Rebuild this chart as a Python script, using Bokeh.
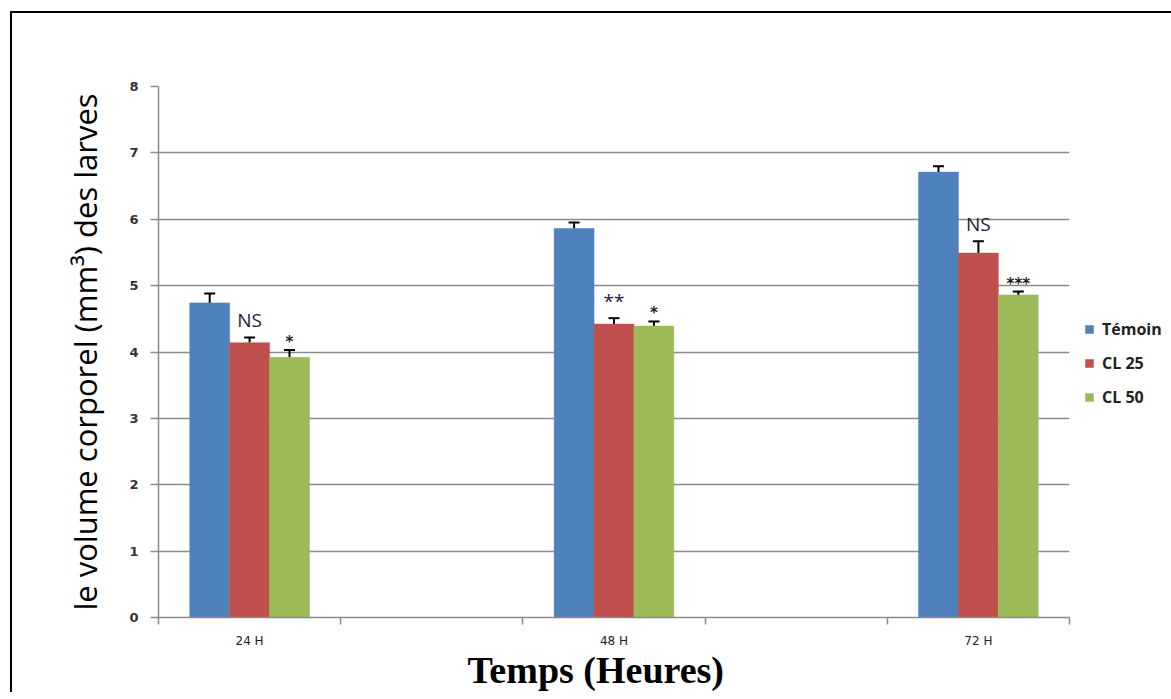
from bokeh.plotting import figure
from bokeh.models import (ColumnDataSource, Whisker, TeeHead, Legend, LegendItem,
                          FixedTicker, Range1d, Title)
from bokeh.transform import dodge
from bokeh.core.properties import value
from bokeh.embed import file_html
from bokeh.resources import INLINE

# ---- data ----
categories = ["24 H", "48 H", "72 H"]
series_names = ["Témoin", "CL 25", "CL 50"]
temoin = [4.74, 5.86, 6.71]
temoin_err = [0.14, 0.09, 0.09]
cl25 = [4.14, 4.42, 5.49]
cl25_err = [0.08, 0.09, 0.18]
cl50 = [3.92, 4.39, 4.86]
cl50_err = [0.11, 0.07, 0.05]
cl25_sig = ["NS", "**", "NS"]
cl50_sig = ["*", "*", "***"]
colors = ["#4F81BD", "#C0504D", "#9BBB59"]
y_ticks = [0, 1, 2, 3, 4, 5, 6, 7, 8]

# category slots: each category gets a slot, with an empty slot between them
slot = [2 * i + 0.5 for i in range(len(categories))]
n_slots = 2 * len(categories) - 1

src = ColumnDataSource(dict(
    x=slot, temoin=temoin, temoin_err=temoin_err,
    temoin_up=[v + e for v, e in zip(temoin, temoin_err)],
    cl25=cl25, cl25_err=cl25_err,
    cl25_up=[v + e for v, e in zip(cl25, cl25_err)],
    cl50=cl50, cl50_err=cl50_err,
    cl50_up=[v + e for v, e in zip(cl50, cl50_err)],
    cl25_sig=cl25_sig, cl50_sig=cl50_sig,
))

p = figure(frame_width=911, frame_height=531, output_backend="svg", toolbar_location=None,
           x_range=Range1d(0, n_slots), y_range=Range1d(0, 8),
           min_border_left=146, min_border_top=73, min_border_right=20,
           min_border_bottom=75, tools="")
p.margin = (11, 0, 0, 10)
p.styles = {"border-left": "2px solid #000", "border-top": "2px solid #000"}
p.outline_line_color = None
p.background_fill_color = "white"
p.border_fill_color = "white"

bw = 0.219
offsets = [-bw, 0.0, bw]
keys = ["temoin", "cl25", "cl50"]
renderers = []
for k, off, c in zip(keys, offsets, colors):
    r = p.vbar(x=dodge("x", off, range=p.x_range), top=k, width=bw, bottom=0,
               source=src, fill_color=c, line_color=c, line_width=0.5)
    renderers.append(r)
    w = Whisker(base=dodge("x", off, range=p.x_range), lower=k, upper=k + "_up",
                source=src, dimension="height", line_color="black", line_width=2,
                upper_head=TeeHead(size=11, line_color="black", line_width=2),
                lower_head=None)
    p.add_layout(w)

# significance labels
p.text(x=dodge("x", offsets[1], range=p.x_range), y="cl25_up", text="cl25_sig",
       source=src, text_align="center", text_baseline="bottom", y_offset=-4,
       text_font=value("Open Sans"), text_font_size="19px", text_color="#1c1c3a")
p.text(x=dodge("x", offsets[2], range=p.x_range), y="cl50_up", text="cl50_sig",
       source=src, text_align="center", text_baseline="bottom", y_offset=1,
       text_font=value("DejaVu Sans"), text_font_size="15px", text_font_style="bold",
       text_color="#1c1c1c")

# axes
grey = "#8a8a8a"
p.xgrid.visible = False
p.ygrid.grid_line_color = grey
p.ygrid.grid_line_width = 1.5
p.ygrid.ticker = FixedTicker(ticks=y_ticks)

p.yaxis.ticker = FixedTicker(ticks=y_ticks)
p.yaxis.axis_line_color = grey
p.yaxis.axis_line_width = 1.5
p.yaxis.major_tick_line_color = grey
p.yaxis.major_tick_line_width = 1.5
p.yaxis.major_tick_in = 0
p.yaxis.major_tick_out = 8
p.yaxis.minor_tick_line_color = None
p.yaxis.major_label_text_font = "DejaVu Sans"
p.yaxis.major_label_text_font_size = "13px"
p.yaxis.major_label_text_font_style = "bold"
p.yaxis.major_label_text_color = "#333333"
p.yaxis.major_label_standoff = 12
p.yaxis.axis_label = "le volume corporel (mm³) des larves"
p.yaxis.axis_label_text_font = "Open Sans"
p.yaxis.axis_label_text_font_size = "31px"
p.yaxis.axis_label_text_font_style = "normal"
p.yaxis.axis_label_text_color = "black"
p.yaxis.axis_label_standoff = 20

p.xaxis.ticker = FixedTicker(ticks=slot, minor_ticks=list(range(n_slots + 1)))
p.xaxis.major_label_overrides = {s: c for s, c in zip(slot, categories)}
p.xaxis.axis_line_color = grey
p.xaxis.axis_line_width = 1.5
p.xaxis.major_tick_line_color = None
p.xaxis.minor_tick_line_color = grey
p.xaxis.minor_tick_line_width = 1.5
p.xaxis.minor_tick_in = 0
p.xaxis.minor_tick_out = 7
p.xaxis.major_tick_out = 7
p.xaxis.major_tick_in = 0
p.xaxis.major_label_text_font = "DejaVu Sans"
p.xaxis.major_label_text_font_size = "12px"
p.xaxis.major_label_text_color = "#222222"
p.xaxis.major_label_standoff = 9

xtitle = Title(text="Temps (Heures)", align="left", offset=309,
               text_font="Liberation Serif", text_font_size="38px",
               text_font_style="bold", text_color="black", standoff=-7)
p.add_layout(xtitle, "below")

legend = Legend(items=[LegendItem(label=n, renderers=[r]) for n, r in zip(series_names, renderers)],
                location=(15, 209), orientation="vertical")
legend.border_line_color = None
legend.background_fill_alpha = 0
legend.padding = 0
legend.margin = 0
legend.glyph_width = 10
legend.glyph_height = 10
legend.label_height = 16
legend.spacing = 12
legend.label_standoff = 8
legend.label_text_font = "Open Sans"
legend.label_text_font_size = "16px"
legend.label_text_font_style = "bold"
legend.label_text_color = "#222222"
p.add_layout(legend, "right")

open("out.html", "w").write(file_html(p, INLINE))
